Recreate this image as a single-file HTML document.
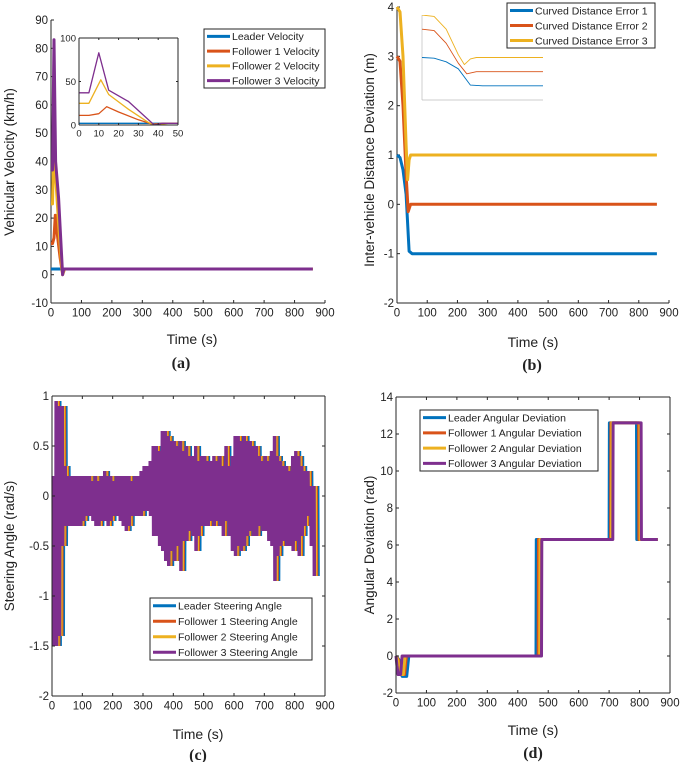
<!DOCTYPE html>
<html><head><meta charset="utf-8"><style>
body{margin:0;background:#fff}
svg{display:block;font-family:"Liberation Sans",sans-serif}
.lab{font-family:"Liberation Serif",serif;font-weight:bold;font-size:16px}
</style></head><body>
<svg id="fig" width="685" height="762" viewBox="0 0 685 762">
<defs>
<clipPath id="clipA"><rect x="79" y="38" width="99" height="87"/></clipPath>
<clipPath id="clipB"><rect x="422" y="15" width="121" height="85"/></clipPath>
</defs>
</svg>
<script>
const C=['#0072BD','#D95319','#EDB120','#7E2F8E'];
// Panel (a) data
const aLeadT=[0,860], aLeadV=[2,2];
const aF1T=[0,5,10,14,20,30,37,42,860], aF1V=[11,11,13,21,15,6,1,2,2];
const aF2T=[0,5,11,15,25,35,38,45,860], aF2V=[25,25,52,35,18,3,0,2,2];
const aF3T=[0,5,10,15,25,38,42,860], aF3V=[37,37,83,40,27,0,2,2];
const aXTicks=[0,100,200,300,400,500,600,700,800,900];
const aYTicks=[-10,0,10,20,30,40,50,60,70,80,90];
// Panel (b) data
const bE1T=[0,10,20,30,40,50,860], bE1V=[1,0.95,0.7,0.2,-0.95,-1,-1];
const bE2T=[0,10,20,30,37,45,860], bE2V=[3,2.9,2,0.6,-0.15,0,0];
const bE3T=[0,10,20,30,35,40,45,860], bE3V=[4,3.9,3,1.2,0.5,0.9,1,1];
const bYTicks=[-2,-1,0,1,2,3,4];
// Panel (c) data: envelope every 10 s
const cUpper=[0.2,0.95,0.9,0.9,0.3,0.2,0.2,0.2,0.2,0.2,0.2,0.2,0.2,0.15,0.2,0.15,0.2,0.25,0.2,0.2,0.15,0.2,0.2,0.2,0.2,0.2,0.15,0.2,0.2,0.25,0.3,0.3,0.35,0.5,0.5,0.45,0.65,0.65,0.6,0.55,0.55,0.5,0.55,0.45,0.5,0.4,0.4,0.5,0.35,0.4,0.4,0.35,0.35,0.4,0.35,0.4,0.3,0.5,0.3,0.4,0.6,0.6,0.55,0.6,0.55,0.55,0.5,0.5,0.4,0.35,0.4,0.35,0.45,0.6,0.4,0.35,0.3,0.3,0.25,0.4,0.45,0.4,0.3,0.25,0.25,0.1,0.1];
const cLower=[-1.5,-1.5,-1.4,-0.5,-0.3,-0.3,-0.3,-0.3,-0.3,-0.3,-0.25,-0.2,-0.2,-0.25,-0.3,-0.3,-0.25,-0.25,-0.3,-0.25,-0.2,-0.2,-0.25,-0.3,-0.35,-0.3,-0.2,-0.2,-0.2,-0.2,-0.15,-0.15,-0.2,-0.4,-0.4,-0.5,-0.55,-0.65,-0.7,-0.55,-0.65,-0.5,-0.75,-0.45,-0.45,-0.35,-0.4,-0.55,-0.4,-0.3,-0.3,-0.3,-0.25,-0.3,-0.25,-0.3,-0.4,-0.25,-0.4,-0.55,-0.6,-0.5,-0.55,-0.5,-0.4,-0.35,-0.4,-0.4,-0.3,-0.35,-0.35,-0.45,-0.5,-0.85,-0.6,-0.5,-0.45,-0.5,-0.5,-0.55,-0.45,-0.6,-0.4,-0.3,-0.2,-0.5,-0.8];
const cShift=[12,7,4,0];
const cYTicks=[-2,-1.5,-1,-0.5,0,0.5,1];
// Panel (d) data
const dLeadT=[0,10,20,35,42,460,461,700,701,790,791,860], dLeadV=[0,-0.2,-1.1,-1.1,0,0,6.3,6.3,12.6,12.6,6.3,6.3];
const dF1T=[0,8,15,28,34,467,468,705,706,797,798,860], dF1V=[0,-0.2,-1,-1,0,0,6.3,6.3,12.6,12.6,6.3,6.3];
const dF2T=[0,6,12,24,30,472,473,708,709,801,802,860], dF2V=[0,-0.2,-1,-1,0,0,6.3,6.3,12.6,12.6,6.3,6.3];
const dF3T=[0,3,7,15,20,478,479,712,713,805,806,860], dF3V=[0,-0.5,-1,-1,0,0,6.3,6.3,12.6,12.6,6.3,6.3];
const dYTicks=[-2,0,2,4,6,8,10,12,14];

const svg=document.getElementById('fig');
const NS='http://www.w3.org/2000/svg';
function mk(tag,attrs,parent){const e=document.createElementNS(NS,tag);for(const k in attrs)e.setAttribute(k,attrs[k]);(parent||svg).appendChild(e);return e;}
function txt(s,x,y,size,anchor,parent,rot){const e=mk('text',{x:x,y:y,'font-size':size,'text-anchor':anchor||'middle',fill:'#222'},parent);if(rot)e.setAttribute('transform','rotate(-90 '+x+' '+y+')');e.textContent=s;return e;}
function axes(o){
  const sx=v=>o.x0+(v-o.xmin)/(o.xmax-o.xmin)*(o.x1-o.x0);
  const sy=v=>o.y1-(v-o.ymin)/(o.ymax-o.ymin)*(o.y1-o.y0);
  return {sx,sy};
}
function frame(o,ax,g,xt,yt,box,fs,tl){
  mk('line',{x1:o.x0,y1:o.y0,x2:o.x0,y2:o.y1,stroke:'#262626','stroke-width':1},g);
  mk('line',{x1:o.x0,y1:o.y1,x2:o.x1,y2:o.y1,stroke:'#262626','stroke-width':1},g);
  if(box){mk('line',{x1:o.x0,y1:o.y0,x2:o.x1,y2:o.y0,stroke:'#262626','stroke-width':1},g);mk('line',{x1:o.x1,y1:o.y0,x2:o.x1,y2:o.y1,stroke:'#262626','stroke-width':1},g);}
  xt.forEach(v=>{const x=ax.sx(v);mk('line',{x1:x,y1:o.y1,x2:x,y2:o.y1-tl,stroke:'#262626'},g);if(box)mk('line',{x1:x,y1:o.y0,x2:x,y2:o.y0+tl,stroke:'#262626'},g);const t=txt(String(v),x,o.y1+fs+2,fs,'middle',g);});
  yt.forEach(v=>{const y=ax.sy(v);mk('line',{x1:o.x0,y1:y,x2:o.x0+tl,y2:y,stroke:'#262626'},g);if(box)mk('line',{x1:o.x1,y1:y,x2:o.x1-tl,y2:y,stroke:'#262626'},g);const t=txt(String(v),o.x0-3,y+fs*0.35,fs,'end',g);});
}
function line(ax,T,V,color,w,g,name){
  const p=T.map((t,i)=>ax.sx(t).toFixed(1)+','+ax.sy(V[i]).toFixed(1)).join(' ');
  const e=mk('polyline',{points:p,fill:'none',stroke:color,'stroke-width':w,'stroke-linejoin':'round'},g);
  
  
  return e;
}
function legend(x,y,w,h,labels,fs,g,name){
  const lg=mk('g',{},g);
  
  
  mk('rect',{x:x,y:y,width:w,height:h,fill:'#fff',stroke:'#262626','stroke-width':1},lg);
  const step=h/labels.length;
  labels.forEach((s,i)=>{const cy=y+step*(i+0.5);
    const l=mk('line',{x1:x+3,y1:cy,x2:x+26,y2:cy,stroke:C[i],'stroke-width':3},lg);
    
    const t=txt(s,x+28,cy+fs*0.36,fs,'start',lg);});
}
const xT=[0,100,200,300,400,500,600,700,800,900];

// ---- Panel a
let g=mk('g',{});
let o={x0:51,x1:325,y0:20,y1:303,xmin:0,xmax:900,ymin:-10,ymax:90};let ax=axes(o);
frame(o,ax,g,aXTicks,aYTicks,false,11.5,3);
line(ax,aLeadT,aLeadV,C[0],3,g,'leader-velocity-line');
line(ax,aF1T,aF1V,C[1],3,g,'follower1-velocity-line');
line(ax,aF2T,aF2V,C[2],3,g,'follower2-velocity-line');
line(ax,aF3T,aF3V,C[3],3,g,'follower3-velocity-line');
let oi={x0:79,x1:178,y0:38,y1:125,xmin:0,xmax:50,ymin:0,ymax:100};
mk('rect',{x:79,y:38,width:99,height:87,fill:'#fff'},g);
let axi=axes(oi);
let gi=mk('g',{'clip-path':'url(#clipA)'},g);
line(axi,aLeadT,aLeadV,C[0],1.3,gi,'inset-leader-velocity');
line(axi,aF1T,aF1V,C[1],1.3,gi,'inset-follower1-velocity');
line(axi,aF2T,aF2V,C[2],1.3,gi,'inset-follower2-velocity');
line(axi,aF3T,aF3V,C[3],1.3,gi,'inset-follower3-velocity');
frame(oi,axi,g,[0,10,20,30,40,50],[0,50,100],true,9.5,2);
legend(204,29,121,59,['Leader Velocity','Follower 1 Velocity','Follower 2 Velocity','Follower 3 Velocity'],10.5,g,'legend-a');
let t=txt('Vehicular Velocity (km/h)',14,162,13.5,'middle',g,true);
t=txt('Time (s)',192,344,14,'middle',g);
t=txt('(a)',181,368,16,'middle',g);t.setAttribute('class','lab');

// ---- Panel b
g=mk('g',{});
o={x0:397,x1:669,y0:7,y1:303,xmin:0,xmax:900,ymin:-2,ymax:4};ax=axes(o);
frame(o,ax,g,xT,bYTicks,false,11.5,3);
line(ax,bE1T,bE1V,C[0],3,g,'distance-error1-line');
line(ax,bE2T,bE2V,C[1],3,g,'distance-error2-line');
line(ax,bE3T,bE3V,C[2],3,g,'distance-error3-line');
oi={x0:422,x1:543,y0:15,y1:100,xmin:0,xmax:100,ymin:-2,ymax:4};axi=axes(oi);
mk('rect',{x:422,y:15,width:121,height:85,fill:'#fff'},g);
mk('line',{x1:422,y1:15,x2:422,y2:100,stroke:'#bbb','stroke-width':0.7},g);
mk('line',{x1:422,y1:100,x2:543,y2:100,stroke:'#bbb','stroke-width':0.7},g);
gi=mk('g',{'clip-path':'url(#clipB)'},g);
line(axi,bE1T,bE1V,C[0],0.9,gi,'inset-error1');
line(axi,bE2T,bE2V,C[1],0.9,gi,'inset-error2');
line(axi,bE3T,bE3V,C[2],0.9,gi,'inset-error3');
legend(507,3,148,45,['Curved Distance Error 1','Curved Distance Error 2','Curved Distance Error 3'],10.5,g,'legend-b');
t=txt('Inter-vehicle Distance Deviation (m)',374,160,13.5,'middle',g,true);
t=txt('Time (s)',533,347,14,'middle',g);
t=txt('(b)',532,370,16,'middle',g);t.setAttribute('class','lab');

// ---- Panel c
g=mk('g',{});
o={x0:52,x1:325,y0:396,y1:696,xmin:0,xmax:900,ymin:-2,ymax:1};ax=axes(o);
const names=['leader-steering-line','follower1-steering-line','follower2-steering-line','follower3-steering-line'];
for(let s=0;s<4;s++){
  const T=[],V=[];
  cUpper.forEach((u,i)=>{for(let k=0;k<4;k++){T.push(i*10+k*2.5+cShift[s]);V.push(u);T.push(i*10+k*2.5+1.25+cShift[s]);V.push(cLower[i]);}});
  const e=line(ax,T,V,C[s],1.2,g,names[s]);e.setAttribute('stroke-linejoin','miter');
}
frame(o,ax,g,xT,cYTicks,true,11.5,3);
legend(150,598,162,62,['Leader Steering Angle','Follower 1 Steering Angle','Follower 2 Steering Angle','Follower 3 Steering Angle'],10.5,g,'legend-c');
t=txt('Steering Angle (rad/s)',14,546,13.5,'middle',g,true);
t=txt('Time (s)',198,739,14,'middle',g);
t=txt('(c)',198,760,16,'middle',g);t.setAttribute('class','lab');

// ---- Panel d
g=mk('g',{});
o={x0:396,x1:670,y0:397,y1:693,xmin:0,xmax:900,ymin:-2,ymax:14};ax=axes(o);
line(ax,dLeadT,dLeadV,C[0],3,g,'leader-angular-line');
line(ax,dF1T,dF1V,C[1],3,g,'follower1-angular-line');
line(ax,dF2T,dF2V,C[2],3,g,'follower2-angular-line');
line(ax,dF3T,dF3V,C[3],3,g,'follower3-angular-line');
frame(o,ax,g,xT,dYTicks,true,11.5,3);
legend(420,410,178,61,['Leader Angular Deviation','Follower 1 Angular Deviation','Follower 2 Angular Deviation','Follower 3 Angular Deviation'],10.5,g,'legend-d');
t=txt('Angular Deviation (rad)',374,545,13.5,'middle',g,true);
t=txt('Time (s)',533,735,14,'middle',g);
t=txt('(d)',533,758,16,'middle',g);t.setAttribute('class','lab');
</script>
</body></html>
